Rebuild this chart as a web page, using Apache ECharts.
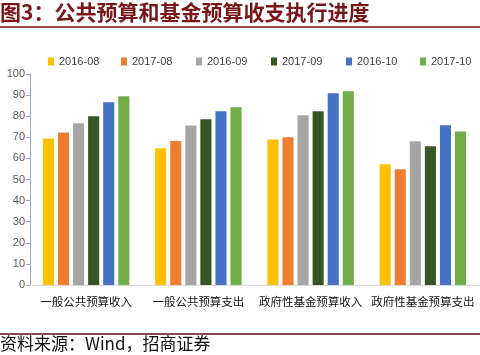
<!DOCTYPE html>
<html><head><meta charset="utf-8">
<script src="https://cdn.jsdelivr.net/npm/echarts@6/dist/echarts.min.js"></script>
<style>html,body{margin:0;padding:0;background:#fff}#c{width:480px;height:355px}</style>
</head><body><div id="c"></div>
<script>
const categories = ['一般公共预算收入','一般公共预算支出','政府性基金预算收入','政府性基金预算支出'];
const seriesNames = ['2016-08','2017-08','2016-09','2017-09','2016-10','2017-10'];
const s2016_08 = [69.4, 64.8, 69.0, 57.2];
const s2017_08 = [72.3, 68.2, 70.0, 54.8];
const s2016_09 = [76.6, 75.6, 80.4, 68.1];
const s2017_09 = [80.0, 78.5, 82.3, 65.7];
const s2016_10 = [86.6, 82.3, 90.9, 75.7];
const s2017_10 = [89.5, 84.2, 91.8, 72.8];
const yTicks = [0,10,20,30,40,50,60,70,80,90,100];
const colors = ['#FFC000','#ED7D31','#A5A5A5','#375623','#4472C4','#70AD47'];
const values = [s2016_08,s2017_08,s2016_09,s2017_09,s2016_10,s2017_10];
const legendLeft = [48,121,196,271,346,420];

const chart = echarts.init(document.getElementById('c'), null, {renderer:'canvas'});
chart.setOption({
  animation:false,
  color: colors,
  graphic:[
    {type:'text', left:0, top:2, style:{text:'图3：公共预算和基金预算收支执行进度', font:'bold 21px "Noto Sans CJK SC"', fill:'#7A1518'}},
    {type:'line', shape:{x1:0,y1:27,x2:480,y2:27}, style:{stroke:'#7A1518', lineWidth:1.5}},
    {type:'line', shape:{x1:0,y1:334,x2:480,y2:334}, style:{stroke:'#5A1014', lineWidth:1.5}},
    {type:'text', left:0, top:335, style:{text:'资料来源：Wind，招商证券', font:'17px "Noto Sans CJK SC"', fill:'#111'}}
  ],
  legend: seriesNames.map((n,i)=>({
    data:[n], left:legendLeft[i], top:56, padding:0, itemWidth:6, itemHeight:8,
    icon:'rect', textStyle:{fontSize:11, color:'#404040', fontFamily:'"Liberation Sans", Arial'}
  })),
  grid:{left:30, right:1, top:74, bottom:70, containLabel:false},
  xAxis:{
    type:'category', data:categories,
    axisLine:{lineStyle:{color:'#D9D9D9'}},
    axisTick:{show:false},
    axisLabel:{fontSize:11.5, color:'#111', margin:11, fontFamily:'"Noto Sans CJK SC"', interval:0}
  },
  yAxis:{
    type:'value', min:yTicks[0], max:yTicks[yTicks.length-1], interval:10,
    axisLine:{show:true, lineStyle:{color:'#8FAADC'}},
    axisTick:{show:true, length:4, lineStyle:{color:'#8FAADC'}},
    splitLine:{show:false},
    axisLabel:{fontSize:11, color:'#595959', margin:5, fontFamily:'"Liberation Sans", Arial'}
  },
  series: seriesNames.map((n,i)=>({
    name:n, type:'bar', data:values[i], barGap:'36%', barCategoryGap:'23%'
  }))
});
</script></body></html>
